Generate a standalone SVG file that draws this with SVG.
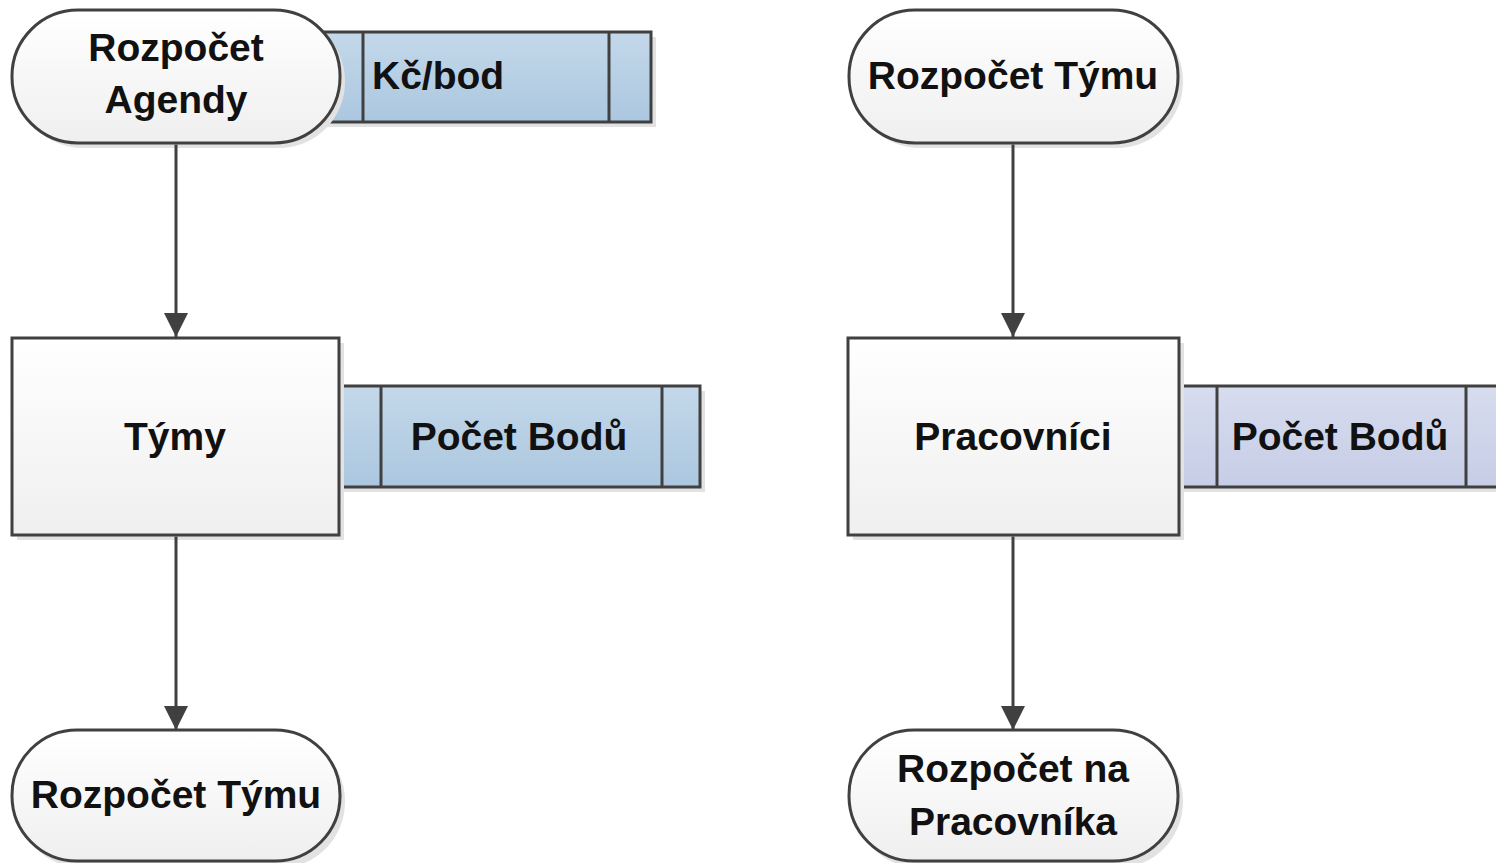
<svg xmlns="http://www.w3.org/2000/svg" width="1496" height="863" viewBox="0 0 1496 863">
<defs>
<linearGradient id="gW" x1="0" y1="0" x2="0" y2="1"><stop offset="0" stop-color="#ffffff"/><stop offset="1" stop-color="#efefef"/></linearGradient>
<linearGradient id="gB" x1="0" y1="0" x2="0" y2="1"><stop offset="0" stop-color="#c4d8ea"/><stop offset="1" stop-color="#abc7df"/></linearGradient>
<linearGradient id="gL" x1="0" y1="0" x2="0" y2="1"><stop offset="0" stop-color="#d7dcee"/><stop offset="1" stop-color="#c6cde6"/></linearGradient>
<marker id="arr" viewBox="0 0 24 24" refX="24" refY="12" markerWidth="24" markerHeight="24" markerUnits="userSpaceOnUse" orient="auto"><path d="M0,0 L24,12 L0,24 Z" fill="#404040"/></marker>
</defs>
<style>
.s{stroke:#404040;stroke-width:3}
.sh{fill:#e2e2e2}
.t{font-family:"Liberation Sans",Arial,sans-serif;font-weight:bold;font-size:39px;fill:#111}
.c{text-anchor:middle}
.ln{stroke:#404040;stroke-width:3;fill:none;marker-end:url(#arr)}
</style>
<rect width="1496" height="863" fill="#fff"/>
<g id="kcbod">
<rect class="sh" x="325" y="37" width="331" height="90"/>
<rect class="s" x="320" y="32" width="331" height="90" fill="url(#gB)"/>
<line class="s" x1="363" y1="32" x2="363" y2="122"/>
<line class="s" x1="609" y1="32" x2="609" y2="122"/>
<text class="t" x="372" y="89">Kč/bod</text>
</g>
<g id="rozpocetAgendy">
<rect class="sh" x="17" y="15" width="328" height="133" rx="66"/>
<rect class="s" x="12" y="10" width="328" height="133" rx="66" fill="url(#gW)"/>
<text class="t c" x="176" y="61">Rozpočet</text>
<text class="t c" x="176" y="113">Agendy</text>
</g>
<g id="pocetBodu1">
<rect class="sh" x="344" y="391" width="361" height="101"/>
<rect class="s" x="339" y="386" width="361" height="101" fill="url(#gB)"/>
<line class="s" x1="381" y1="386" x2="381" y2="487"/>
<line class="s" x1="662" y1="386" x2="662" y2="487"/>
<text class="t c" x="519" y="450">Počet Bodů</text>
</g>
<g id="tymy">
<rect class="sh" x="17" y="343" width="327" height="197"/>
<rect class="s" x="12" y="338" width="327" height="197" fill="url(#gW)"/>
<text class="t c" x="175" y="450">Týmy</text>
</g>
<g id="rozpocetTymu1">
<rect class="sh" x="17" y="735" width="328" height="133" rx="66"/>
<rect class="s" x="12" y="730" width="328" height="131" rx="65" fill="url(#gW)"/>
<text class="t c" x="176" y="808">Rozpočet Týmu</text>
</g>
<g id="rozpocetTymu2">
<rect class="sh" x="854" y="15" width="329" height="133" rx="66"/>
<rect class="s" x="849" y="10" width="329" height="133" rx="66" fill="url(#gW)"/>
<text class="t c" x="1013" y="89">Rozpočet Týmu</text>
</g>
<g id="pocetBodu2">
<rect class="sh" x="1184" y="391" width="320" height="101"/>
<rect class="s" x="1179" y="386" width="325" height="101" fill="url(#gL)"/>
<line class="s" x1="1217" y1="386" x2="1217" y2="487"/>
<line class="s" x1="1466" y1="386" x2="1466" y2="487"/>
<text class="t c" x="1340" y="450">Počet Bodů</text>
</g>
<g id="pracovnici">
<rect class="sh" x="853" y="343" width="331" height="197"/>
<rect class="s" x="848" y="338" width="331" height="197" fill="url(#gW)"/>
<text class="t c" x="1013" y="450">Pracovníci</text>
</g>
<g id="rozpocetNaPracovnika">
<rect class="sh" x="854" y="735" width="329" height="133" rx="66"/>
<rect class="s" x="849" y="730" width="329" height="131" rx="65" fill="url(#gW)"/>
<text class="t c" x="1013" y="782">Rozpočet na</text>
<text class="t c" x="1013" y="835">Pracovníka</text>
</g>
<g id="connectors">
<path class="ln" d="M176,144.5 V337"/>
<path class="ln" d="M176,536.5 V730"/>
<path class="ln" d="M1013,144.5 V337"/>
<path class="ln" d="M1013,536.5 V730"/>
</g>
</svg>
